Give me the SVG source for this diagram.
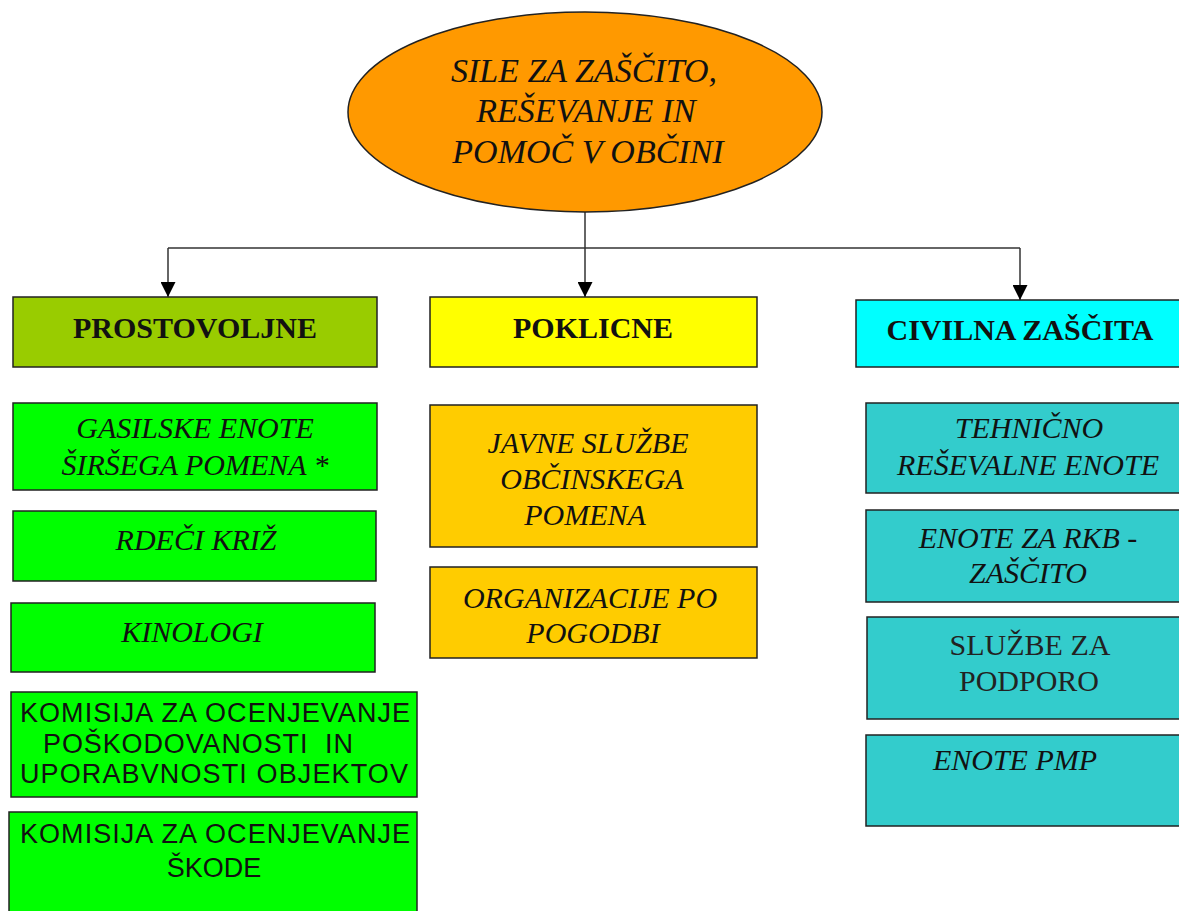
<svg xmlns="http://www.w3.org/2000/svg" width="1179" height="911" viewBox="0 0 1179 911">
<style>
.box{stroke:#222;stroke-width:1.5}
.it{font-family:"Liberation Serif","Times New Roman",serif;font-style:italic;font-size:30px;fill:#111;text-anchor:middle}
.hd{font-family:"Liberation Serif","Times New Roman",serif;font-weight:bold;font-size:30px;fill:#111;text-anchor:middle}
.rg{font-family:"Liberation Serif","Times New Roman",serif;font-size:30px;fill:#222;text-anchor:middle}
.sn{font-family:"Liberation Sans",Arial,sans-serif;font-size:27px;fill:#111}
.ln{stroke:#333;stroke-width:1.5;fill:none}
</style>
<defs>
<marker id="arr" markerUnits="userSpaceOnUse" markerWidth="15" markerHeight="15" refX="15" refY="7.5" orient="auto" viewBox="0 0 15 15">
<path d="M0,0 L15,7.5 L0,15 z" fill="#000"/>
</marker>
</defs>
<rect width="1179" height="911" fill="#fff"/>

<g id="connectors">
<line class="ln" x1="585" y1="212" x2="585" y2="297" marker-end="url(#arr)"/>
<line class="ln" x1="168" y1="248" x2="1020" y2="248"/>
<line class="ln" x1="168" y1="248" x2="168" y2="297" marker-end="url(#arr)"/>
<line class="ln" x1="1020" y1="248" x2="1020" y2="300" marker-end="url(#arr)"/>
</g>

<g id="root">
<ellipse cx="585" cy="112" rx="237" ry="100" fill="#FF9900" stroke="#222" stroke-width="1.5"/>
<text class="it" style="font-size:34px" x="584" y="82">SILE ZA ZAŠČITO,</text>
<text class="it" style="font-size:34px" x="586" y="122">REŠEVANJE IN</text>
<text class="it" style="font-size:34px" x="588" y="163">POMOČ V OBČINI</text>
</g>

<g id="prostovoljne">
<rect class="box" x="13" y="297" width="364" height="70" fill="#99CC00"/>
<text class="hd" x="195" y="338">PROSTOVOLJNE</text>
</g>
<g id="poklicne">
<rect class="box" x="430" y="297" width="327" height="70" fill="#FFFF00"/>
<text class="hd" x="593" y="338">POKLICNE</text>
</g>
<g id="civilna">
<rect class="box" x="856" y="300" width="330" height="67" fill="#00FFFF"/>
<text class="hd" x="1020" y="340">CIVILNA ZAŠČITA</text>
</g>

<g id="gasilske">
<rect class="box" x="13" y="403" width="364" height="87" fill="#00FF00"/>
<text class="it" x="195" y="438">GASILSKE ENOTE</text>
<text class="it" x="195" y="475">ŠIRŠEGA POMENA *</text>
</g>
<g id="rdeci">
<rect class="box" x="13" y="511" width="363" height="70" fill="#00FF00"/>
<text class="it" x="196" y="550">RDEČI KRIŽ</text>
</g>
<g id="kinologi">
<rect class="box" x="11" y="603" width="364" height="69" fill="#00FF00"/>
<text class="it" x="192" y="642">KINOLOGI</text>
</g>
<g id="komisija1">
<rect class="box" x="11" y="692" width="406" height="105" fill="#00FF00"/>
<text class="sn" x="20" y="722" textLength="390">KOMISIJA ZA OCENJEVANJE</text>
<text class="sn" x="43" y="753" textLength="310">POŠKODOVANOSTI&#160; IN</text>
<text class="sn" x="20" y="783" textLength="388">UPORABVNOSTI OBJEKTOV</text>
</g>
<g id="komisija2">
<rect class="box" x="9" y="812" width="408" height="110" fill="#00FF00"/>
<text class="sn" x="20" y="843" textLength="390">KOMISIJA ZA OCENJEVANJE</text>
<text class="sn" x="214" y="877" text-anchor="middle">ŠKODE</text>
</g>

<g id="javne">
<rect class="box" x="430" y="405" width="327" height="142" fill="#FFCC00"/>
<text class="it" x="588" y="453">JAVNE SLUŽBE</text>
<text class="it" x="592" y="489">OBČINSKEGA</text>
<text class="it" x="585" y="525">POMENA</text>
</g>
<g id="organizacije">
<rect class="box" x="430" y="567" width="327" height="91" fill="#FFCC00"/>
<text class="it" x="590" y="608">ORGANIZACIJE PO</text>
<text class="it" x="593" y="643">POGODBI</text>
</g>

<g id="tehnicno">
<rect class="box" x="866" y="403" width="320" height="90" fill="#33CCCC"/>
<text class="it" x="1029" y="438">TEHNIČNO</text>
<text class="it" x="1028" y="475">REŠEVALNE ENOTE</text>
</g>
<g id="rkb">
<rect class="box" x="866" y="510" width="320" height="92" fill="#33CCCC"/>
<text class="it" x="1028" y="548">ENOTE ZA RKB -</text>
<text class="it" x="1028" y="583">ZAŠČITO</text>
</g>
<g id="podpora">
<rect class="box" x="867" y="617" width="320" height="102" fill="#33CCCC"/>
<text class="rg" x="1030" y="655">SLUŽBE ZA</text>
<text class="rg" x="1029" y="691">PODPORO</text>
</g>
<g id="pmp">
<rect class="box" x="866" y="735" width="320" height="91" fill="#33CCCC"/>
<text class="it" x="1015" y="770">ENOTE PMP</text>
</g>
</svg>
